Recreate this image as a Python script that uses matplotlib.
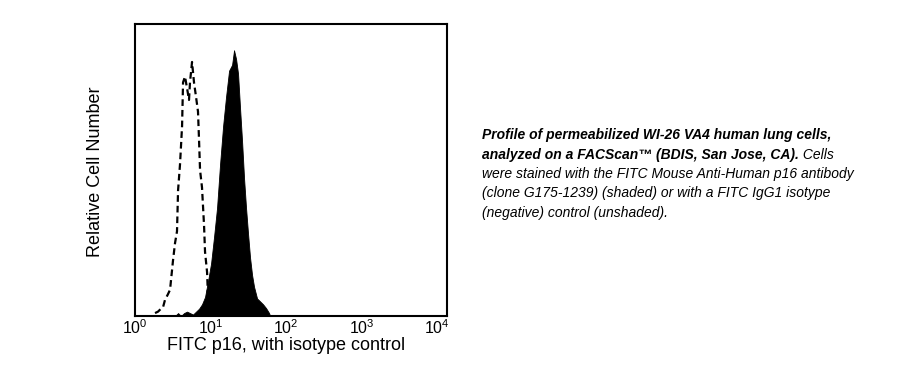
import matplotlib
matplotlib.use('Agg')
import matplotlib.pyplot as plt
import numpy as np

plt.rcParams['font.family'] = ['Liberation Sans', 'DejaVu Sans']
plt.rcParams['mathtext.fontset'] = 'custom'
plt.rcParams['mathtext.rm'] = 'Liberation Sans'
plt.rcParams['mathtext.it'] = 'Liberation Sans:italic'

# p16 stained cells (shaded) - log10 channel / relative count
p16_log = [0.530, 0.570, 0.609, 0.649, 0.689, 0.728, 0.768, 0.808, 0.848, 0.887,
           0.927, 0.967, 1.007, 1.046, 1.086, 1.126, 1.166, 1.205, 1.245, 1.285,
           1.311, 1.338, 1.364, 1.391, 1.417, 1.444, 1.470, 1.497, 1.523, 1.550,
           1.576, 1.616, 1.656, 1.695, 1.735, 1.775, 1.788]
p16_counts = [0, 1, 0, 1, 1.5, 1, 0.5, 1.5, 2.5, 4,
              6.5, 12, 18, 27, 37, 52, 65, 75, 84, 86,
              91, 88, 83, 71, 60, 47, 37, 28, 20, 14,
              10, 6, 5, 4, 2.7, 1, 0]

# isotype control (unshaded, dashed)
iso_log = [0.265, 0.305, 0.344, 0.371, 0.397, 0.437, 0.464, 0.503, 0.530, 0.556,
           0.570, 0.596, 0.623, 0.636, 0.662, 0.689, 0.715, 0.728, 0.755, 0.781,
           0.808, 0.834, 0.848, 0.861, 0.887, 0.914, 0.927, 0.954, 0.967, 0.980]
iso_counts = [1, 1.5, 2.5, 3, 5.5, 7.5, 9, 19, 25, 29,
              43, 52, 65, 80, 82, 78, 74, 80, 87, 80,
              75, 70, 60, 50, 44, 31, 22, 15, 6, 1]

decades = [1, 10, 100, 1000, 10000]
decade_labels = ['$10^{0}$', '$10^{1}$', '$10^{2}$', '$10^{3}$', '$10^{4}$']

fig = plt.figure(figsize=(9, 3.84), dpi=100)
ax = fig.add_axes([135/900, 1 - 316/384, 312/900, 292/384])

ax.fill_between(10 ** np.array(p16_log), p16_counts,
                color='black', linewidth=0.6, edgecolor='black')
ax.plot(10 ** np.array(iso_log), iso_counts, color='black',
        linewidth=1.6, linestyle=(0, (3, 1.8)))

ax.set_xscale('log')
ax.set_xlim(1, 10 ** 4.13)
ax.set_ylim(0, 100)
ax.set_xticks(decades)
ax.set_xticklabels(decade_labels)
ax.minorticks_off()
ax.tick_params(axis='x', length=0, pad=2, labelsize=11.5)
ax.set_yticks([])
for sp in ax.spines.values():
    sp.set_linewidth(1.5)

fig.text(95/900, 1 - 172/384, 'Relative Cell Number', rotation=90,
         ha='center', va='center', fontsize=13)
fig.text(286/900, 1 - 350.5/384, 'FITC p16, with isotype control',
         ha='center', va='baseline', fontsize=13)

# caption
cx = 482 / 900
fs = 10
fig.text(cx, 1 - 139/384, 'Profile of permeabilized WI-26 VA4 human lung cells,',
         fontsize=fs, fontweight='bold', fontstyle='italic', va='baseline')
t2 = fig.text(cx, 1 - 158.5/384, 'analyzed on a FACScan\u2122 (BDIS, San Jose, CA).',
              fontsize=fs, fontweight='bold', fontstyle='italic', va='baseline')
fig.canvas.draw()
bb = t2.get_window_extent(renderer=fig.canvas.get_renderer())
fig.text(bb.x1 / (fig.dpi * 9), 1 - 158.5/384, ' Cells',
         fontsize=fs, fontstyle='italic', va='baseline')
rest = ['were stained with the FITC Mouse Anti-Human p16 antibody',
        '(clone G175-1239) (shaded) or with a FITC IgG1 isotype',
        '(negative) control (unshaded).']
for i, line in enumerate(rest):
    fig.text(cx, 1 - (178 + 19.5 * i)/384, line, fontsize=fs,
             fontstyle='italic', va='baseline')

fig.savefig('out.png', dpi=100)
